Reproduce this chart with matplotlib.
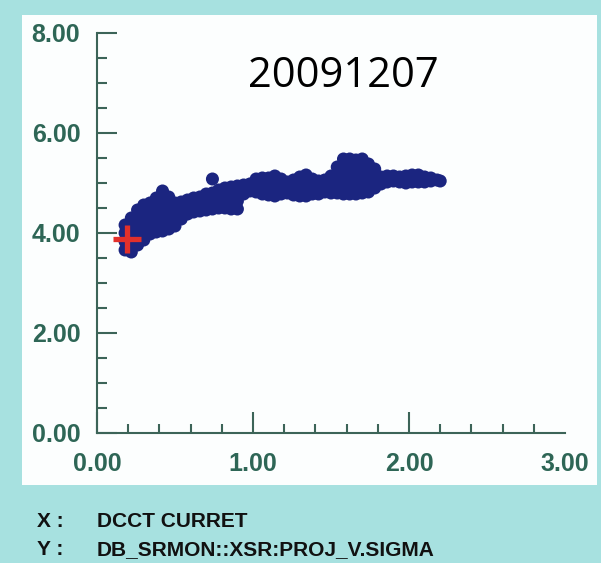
import matplotlib
matplotlib.use('Agg')
import matplotlib.pyplot as plt
from matplotlib.patches import Rectangle
from matplotlib.ticker import MultipleLocator

# DCCT current vs vertical beam size (PROJ_V.SIGMA)
current = [0.18, 0.18, 0.18, 0.18,
           0.22, 0.22, 0.22, 0.22, 0.22,
           0.26, 0.26, 0.26, 0.26, 0.26,
           0.30, 0.30, 0.30, 0.30, 0.30,
           0.34, 0.34, 0.34, 0.34, 0.34,
           0.38, 0.38, 0.38, 0.38, 0.38,
           0.42, 0.42, 0.42, 0.42, 0.42, 0.42,
           0.46, 0.46, 0.46, 0.46, 0.46,
           0.50, 0.50, 0.50, 0.50,
           0.54, 0.54, 0.54,
           0.58, 0.58, 0.58,
           0.62, 0.62, 0.62,
           0.66, 0.66, 0.66,
           0.70, 0.70, 0.70,
           0.74, 0.74, 0.74, 0.74,
           0.78, 0.78, 0.78,
           0.82, 0.82, 0.82,
           0.86, 0.86, 0.86, 0.86,
           0.90, 0.90, 0.90, 0.90,
           0.94, 0.94,
           0.98, 0.98,
           1.02, 1.02, 1.02,
           1.06, 1.06, 1.06,
           1.10, 1.10, 1.10,
           1.14, 1.14, 1.14,
           1.18, 1.18, 1.18,
           1.22, 1.22, 1.22,
           1.26, 1.26, 1.26,
           1.30, 1.30, 1.30,
           1.34, 1.34, 1.34,
           1.38, 1.38, 1.38,
           1.42, 1.42, 1.42,
           1.46, 1.46, 1.46,
           1.50, 1.50, 1.50,
           1.54, 1.54, 1.54, 1.54,
           1.58, 1.58, 1.58, 1.58, 1.58,
           1.62, 1.62, 1.62, 1.62, 1.62,
           1.66, 1.66, 1.66, 1.66, 1.66,
           1.70, 1.70, 1.70, 1.70, 1.70,
           1.74, 1.74, 1.74, 1.74,
           1.78, 1.78, 1.78,
           1.82, 1.82,
           1.86, 1.86,
           1.90, 1.90,
           1.94, 1.94,
           1.98, 1.98,
           2.02, 2.02,
           2.06, 2.06,
           2.10, 2.10,
           2.14, 2.14,
           2.18,
           2.20]

sigma = [3.66, 3.83, 4.00, 4.16,
         3.62, 3.78, 3.96, 4.13, 4.30,
         3.76, 3.93, 4.10, 4.28, 4.46,
         3.86, 4.03, 4.20, 4.38, 4.56,
         3.98, 4.16, 4.34, 4.50, 4.60,
         4.02, 4.20, 4.38, 4.56, 4.70,
         4.04, 4.22, 4.40, 4.58, 4.74, 4.84,
         4.08, 4.26, 4.44, 4.60, 4.72,
         4.14, 4.30, 4.46, 4.60,
         4.28, 4.44, 4.62,
         4.38, 4.54, 4.66,
         4.42, 4.56, 4.70,
         4.44, 4.60, 4.72,
         4.46, 4.62, 4.78,
         4.48, 4.64, 4.80, 5.08,
         4.50, 4.68, 4.86,
         4.50, 4.70, 4.90,
         4.48, 4.60, 4.78, 4.92,
         4.48, 4.64, 4.80, 4.94,
         4.78, 4.96,
         4.84, 4.98,
         4.82, 4.98, 5.08,
         4.78, 4.94, 5.10,
         4.76, 4.92, 5.10,
         4.74, 4.92, 5.14,
         4.78, 4.94, 5.08,
         4.80, 4.96, 5.02,
         4.76, 4.92, 5.06,
         4.74, 4.92, 5.12,
         4.74, 4.94, 5.16,
         4.78, 4.96, 5.08,
         4.78, 4.94, 5.04,
         4.82, 4.98, 5.06,
         4.80, 4.98, 5.14,
         4.80, 4.98, 5.16, 5.32,
         4.78, 4.96, 5.14, 5.32, 5.48,
         4.78, 4.96, 5.14, 5.32, 5.48,
         4.78, 4.96, 5.14, 5.32, 5.46,
         4.80, 4.98, 5.16, 5.34, 5.48,
         4.82, 5.00, 5.18, 5.38,
         4.90, 5.08, 5.28,
         4.98, 5.12,
         5.02, 5.14,
         5.04, 5.14,
         5.02, 5.12,
         5.00, 5.14,
         5.02, 5.16,
         5.02, 5.16,
         5.02, 5.12,
         5.04, 5.10,
         5.06,
         5.04]

# latest reading (red cross)
last_current = [0.19]
last_sigma = [3.88]

x_ticks = [0.0, 1.0, 2.0, 3.0]
y_ticks = [0.0, 2.0, 4.0, 6.0, 8.0]

bg = '#a7e1e0'
axis_col = '#3c6458'
label_col = '#2e6656'

fig = plt.figure(figsize=(6.01, 5.63), dpi=100, facecolor=bg)

# white plotting panel
panel = Rectangle((22 / 601, 1 - 485 / 563), 575 / 601, 470 / 563,
                  transform=fig.transFigure, facecolor='#fcfefe',
                  edgecolor='none', zorder=-5)
fig.add_artist(panel)

ax = fig.add_axes([97 / 601, 1 - 433 / 563, 468 / 601, 400 / 563])
ax.set_zorder(5)
ax.set_facecolor('none')
ax.set_xlim(0, 3)
ax.set_ylim(0, 8)

ax.scatter(current, sigma, s=88, color='#1b2580', edgecolors='none', zorder=3, clip_on=False)
ax.plot(last_current, last_sigma, marker='+', markersize=20, mew=3.8,
        color='#e2302b', linestyle='none', zorder=4)

for side in ['top', 'right']:
    ax.spines[side].set_visible(False)
for side in ['left', 'bottom']:
    ax.spines[side].set_color(axis_col)
    ax.spines[side].set_linewidth(1.5)

ax.set_xticks(x_ticks)
ax.set_yticks(y_ticks)
ax.set_xticklabels([f'{v:.2f}' for v in x_ticks])
ax.set_yticklabels([f'{v:.2f}' for v in y_ticks])
ax.xaxis.set_minor_locator(MultipleLocator(0.2))
ax.yaxis.set_minor_locator(MultipleLocator(0.5))

ax.tick_params(axis='both', which='both', direction='in', color=axis_col, width=1.5)
ax.tick_params(axis='x', which='major', length=15, pad=14)
ax.tick_params(axis='x', which='minor', length=6.5)
ax.tick_params(axis='y', which='major', length=14.5, pad=12)
ax.tick_params(axis='y', which='minor', length=7.2)

# no tick mark at the far end of the x axis
ax.xaxis.get_major_ticks()[-1].tick1line.set_visible(False)

for lab in ax.get_xticklabels() + ax.get_yticklabels():
    lab.set_fontfamily('Liberation Sans')
    lab.set_fontweight('bold')
    lab.set_fontsize(18)
    lab.set_color(label_col)

fig.text(343 / 601, 1 - 87 / 563, '20091207', ha='center', va='baseline',
         fontsize=30, family='Open Sans', color='black')

fig.text(37 / 601, 1 - 527 / 563, 'X :', ha='left', va='baseline',
         fontsize=15, family='Liberation Sans', fontweight='bold', color='#111111')
fig.text(97 / 601, 1 - 527 / 563, 'DCCT CURRET', ha='left', va='baseline',
         fontsize=15, family='Liberation Sans', fontweight='bold', color='#111111')
fig.text(37 / 601, 1 - 555 / 563, 'Y :', ha='left', va='baseline',
         fontsize=15, family='Liberation Sans', fontweight='bold', color='#111111')
fig.text(97 / 601, 1 - 555 / 563, 'DB_SRMON::XSR:PROJ_V.SIGMA', ha='left', va='baseline',
         fontsize=15, family='Liberation Sans', fontweight='bold', color='#111111')

fig.savefig('out.png', dpi=100, facecolor=bg)
